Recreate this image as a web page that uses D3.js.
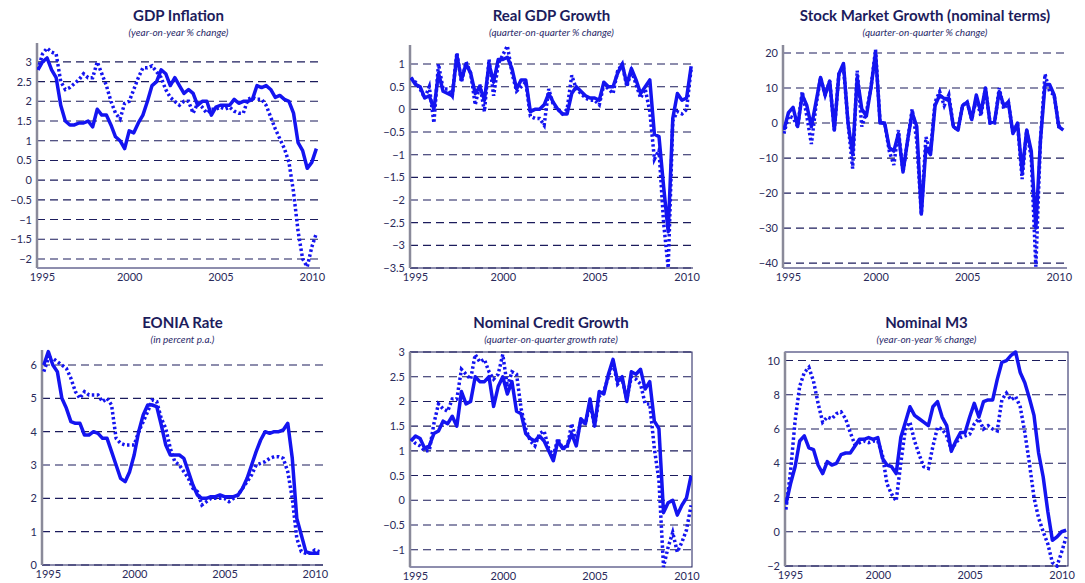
<!DOCTYPE html>
<html><head><meta charset="utf-8">
<script src="https://cdn.jsdelivr.net/npm/d3@7"></script>
<style>
body { margin:0; background:#fff; }
text { font-family: Lato, "Open Sans", sans-serif; }
</style></head>
<body><svg id="chart" width="1085" height="583"></svg>
<script>
// quarterly data, 1995Q1 .. 2010Q2
var gdpInflSolid = [2.8,3.0,3.1,2.8, 2.6,1.9,1.5,1.4, 1.4,1.45,1.45,1.5, 1.35,1.8,1.65,1.65, 1.4,1.1,1.0,0.8, 1.25,1.2,1.45,1.65, 2.0,2.4,2.5,2.8, 2.7,2.4,2.6,2.4, 2.2,2.3,2.2,1.9, 2.0,2.0,1.65,1.85, 1.9,1.9,1.9,2.05, 1.95,2.0,2.0,2.05, 2.4,2.35,2.4,2.3, 2.1,2.15,2.05,2.0, 1.7,0.95,0.75,0.3, 0.45,0.8];
var gdpInflDot = [2.8,3.2,3.35,3.25, 3.2,2.5,2.3,2.35, 2.45,2.55,2.7,2.6, 2.6,3.0,2.7,2.4, 2.0,1.7,1.55,1.95, 2.0,2.3,2.6,2.85, 2.85,2.9,2.75,2.6, 2.3,2.1,2.0,1.9, 2.0,2.0,1.7,1.95, 1.85,1.7,1.8,1.8, 1.85,1.8,1.85,1.75, 1.7,1.7,2.05,2.1, 2.05,2.05,1.9,1.6, 1.3,1.05,0.8,0.45, -0.3,-1.3,-2.0,-2.2, -1.7,-1.35];

var gdpSolid = [0.7,0.55,0.5,0.25, 0.3,0.0,0.8,0.4, 0.35,0.3,1.2,0.65, 1.0,0.8,0.35,0.5, 0.2,1.0,0.6,1.1, 1.1,1.15,0.9,0.45, 0.65,0.65,-0.05,0.0, 0.0,0.1,0.35,0.15, 0.0,-0.1,-0.1,0.35, 0.5,0.4,0.3,0.25, 0.25,0.2,0.6,0.5, 0.5,0.8,1.0,0.55, 0.9,0.65,0.35,0.5, 0.65,-0.55,-0.6,-1.7, -2.7,-0.2,0.35,0.2, 0.25,0.95];
var gdpDot = [0.7,0.6,0.45,0.25, 0.5,-0.3,1.0,0.45, 0.45,0.3,1.25,0.6, 1.05,0.8,0.1,0.55, -0.05,1.1,0.3,1.0, 1.2,1.4,0.8,0.4, 0.5,0.6,-0.15,-0.2, -0.2,-0.35,0.45,0.1, 0.0,-0.1,0.0,0.75, 0.45,0.35,0.25,0.2, 0.2,0.1,0.55,0.45, 0.35,0.85,1.0,0.5, 0.85,0.55,0.25,0.45, -0.05,-1.1,-0.9,-2.5, -3.5,-0.25,-0.05,-0.1, 0.0,0.9];

var stockSolid = [-2,3,4.5,-1, 8,5,-1,6, 13,8,12,-2, 14,17,0,-9, 13,4,2,10, 20,0,0,-7, -8,-3,-14,-5, 3,-1,-26,-7, -9,5,8,7, 7,-1,-2,5, 6,1,8,3, 10,0,0.5,9, 5,6,-3,0, -14,-2,-8,-30, -5,11,11,8, -1,-2];
var stockDot = [-3,2,1.5,-1, 9,2,-6,5, 13,8,12,-2, 14,16,0,-13, 15,-1,3,10, 21,0,0,-8, -12,-2,-14,-5, 4,-5,-26,-4, -8,6,9,5, 8,-1,-2,5, 6,1,7,2, 10,0,0,10, 4,6,-3,0, -16,-2,-10,-41, -5,14,9,8, -1,-1];

var eoniaSolid = [6.0,6.4,6.0,5.8, 5.0,4.7,4.3,4.25, 4.25,3.9,3.9,4.0, 3.95,3.8,3.8,3.4, 3.0,2.6,2.5,2.8, 3.3,4.0,4.5,4.8, 4.8,4.75,4.2,3.6, 3.3,3.3,3.3,3.2, 2.8,2.4,2.1,2.0, 2.0,2.05,2.05,2.1, 2.05,2.05,2.05,2.1, 2.3,2.6,3.0,3.4, 3.75,4.0,3.95,4.0, 4.0,4.05,4.25,3.2, 1.4,0.9,0.4,0.35, 0.35,0.35];
var eoniaDot = [5.8,6.2,6.2,6.1, 6.0,5.9,5.6,5.2, 5.0,5.2,5.1,5.1, 5.1,4.9,5.0,4.8, 3.8,3.65,3.6,3.6, 3.6,4.0,4.3,4.6, 4.95,4.9,4.4,4.1, 3.5,3.1,3.0,2.8, 2.6,2.3,2.2,1.8, 1.9,2.0,2.0,2.0, 2.0,1.9,2.0,2.1, 2.3,2.5,2.7,3.0, 3.05,3.1,3.2,3.25, 3.25,3.2,2.8,2.0, 0.8,0.4,0.35,0.35, 0.45,0.4];

var creditSolid = [1.2,1.3,1.25,1.05, 1.1,1.35,1.4,1.6, 1.55,1.7,1.5,2.2, 1.95,2.0,2.5,2.4, 2.4,2.5,1.9,2.3, 2.5,2.15,2.4,1.8, 1.75,1.35,1.25,1.2, 1.3,1.2,1.0,0.8, 1.2,1.05,1.1,1.35, 1.1,1.65,1.55,2.05, 1.5,2.2,2.15,2.55, 2.85,2.4,2.5,2.0, 2.6,2.55,2.65,2.25, 2.4,1.6,1.45,-0.25, -0.05,0.0,-0.3,-0.1, 0.05,0.5];
var creditDot = [1.25,1.15,1.1,1.0, 1.0,1.55,1.95,1.85, 1.8,2.05,2.05,2.65, 2.55,2.45,2.95,2.8, 2.85,2.6,2.45,2.55, 2.95,2.3,2.6,2.55, 1.85,1.45,1.2,1.1, 1.35,1.4,1.05,0.9, 1.25,1.05,1.05,1.55, 1.2,1.6,1.55,1.95, 1.5,2.1,2.2,2.5, 2.8,2.35,2.45,2.05, 2.5,2.45,2.35,1.95, 1.95,1.05,0.4,-1.35, -0.95,-0.65,-1.05,-0.85, -0.6,-0.1];

var m3Solid = [1.6,2.8,3.8,5.3, 5.6,4.9,4.8,3.9, 3.4,4.1,3.9,4.0, 4.5,4.6,4.6,5.0, 5.4,5.4,5.5,5.4, 5.5,4.3,3.9,3.8, 3.4,5.5,6.4,7.3, 6.8,6.6,6.4,6.2, 7.3,7.6,6.7,6.2, 4.7,5.3,5.8,5.8, 6.7,7.5,6.7,7.6, 7.7,7.7,8.9,9.9, 10.0,10.3,10.5,9.3, 8.7,7.8,6.8,4.6, 3.2,1.2,-0.5,-0.3, 0.0,0.1];
var m3Dot = [1.3,3.5,6.5,8.5, 9.3,9.6,8.8,7.5, 6.4,6.7,6.6,6.9, 7.0,6.6,5.8,5.1, 5.2,5.3,5.2,5.3, 5.3,4.5,2.8,2.2, 1.8,4.0,6.0,6.4, 5.3,4.5,3.8,3.7, 5.0,6.1,6.0,5.6, 4.8,5.2,5.5,5.6, 5.7,6.3,6.6,6.0, 6.2,6.0,5.9,7.7, 8.1,7.7,7.9,7.3, 5.8,4.0,2.0,0.8, 0.0,-0.7,-1.8,-2.0, -1.2,-0.3];

var yearTicks = [1995, 2000, 2005, 2010];

var panels = [
  {title:"GDP Inflation", sub:"(year-on-year % change)", solid:gdpInflSolid, dot:gdpInflDot,
   box:[37,43,320,268], y:[-2.23,3.48], x:[1994.95,2010.45], ticks:[-2,-1.5,-1,-0.5,0,0.5,1,1.5,2,2.5,3], ty:21, frame:false},
  {title:"Real GDP Growth", sub:"(quarter-on-quarter % change)", solid:gdpSolid, dot:gdpDot,
   box:[410,45,693,268], y:[-3.5,1.42], x:[1994.95,2010.35], ticks:[-3.5,-3,-2.5,-2,-1.5,-1,-0.5,0,0.5,1], ty:21, frame:false},
  {title:"Stock Market Growth (nominal terms)", sub:"(quarter-on-quarter % change)", solid:stockSolid, dot:stockDot,
   box:[783,45,1067,268], y:[-41.4,22.3], x:[1994.95,2010.45], ticks:[-40,-30,-20,-10,0,10,20], ty:21, frame:false},
  {title:"EONIA Rate", sub:"(in percent p.a.)", solid:eoniaSolid, dot:eoniaDot,
   box:[42,350,323,565], y:[0,6.45], x:[1994.9,2010.45], ticks:[0,1,2,3,4,5,6], ty:328, frame:false},
  {title:"Nominal Credit Growth", sub:"(quarter-on-quarter growth rate)", solid:creditSolid, dot:creditDot,
   box:[410,352,692,567], y:[-1.35,3.0], x:[1994.95,2010.3], ticks:[-1,-0.5,0,0.5,1,1.5,2,2.5,3], ty:328, frame:true},
  {title:"Nominal M3", sub:"(year-on-year % change)", solid:m3Solid, dot:m3Dot,
   box:[785,352,1068,566], y:[-2,10.5], x:[1994.95,2010.35], ticks:[-2,0,2,4,6,8,10], ty:328, frame:true}
];

var svg = d3.select("#chart");
var navy = "#1c1c5c", blue = "#1414f0";

panels.forEach(function(p) {
  var b = p.box;
  var x = d3.scaleLinear().domain(p.x).range([b[0], b[2]]);
  var y = d3.scaleLinear().domain(p.y).range([b[3], b[1]]);
  var g = svg.append("g");
  var cx = (b[0] + b[2]) / 2;

  g.append("text").attr("x", cx).attr("y", p.ty).attr("text-anchor", "middle")
   .attr("font-size", 15).attr("font-weight", "bold").attr("fill", navy).text(p.title);
  g.append("text").attr("x", cx).attr("y", p.ty + 15).attr("text-anchor", "middle")
   .attr("font-size", 10).attr("font-style", "italic").attr("fill", "#2a2a6a").text(p.sub);

  // grid
  g.selectAll(".grid").data(p.ticks).enter().append("line")
   .attr("x1", b[0]).attr("x2", b[2])
   .attr("y1", function(d) { return y(d); }).attr("y2", function(d) { return y(d); })
   .attr("stroke", navy).attr("stroke-width", 1.1).attr("stroke-dasharray", "8,5");

  if (p.frame) {
    g.append("rect").attr("x", b[0]).attr("y", b[1]).attr("width", b[2]-b[0]).attr("height", b[3]-b[1])
     .attr("fill", "none").attr("stroke", navy).attr("stroke-width", 1);
  } else {
    g.append("line").attr("x1", b[0]).attr("x2", b[2]).attr("y1", b[3]).attr("y2", b[3])
     .attr("stroke", navy).attr("stroke-width", 1);
  }
  // thick left axis
  g.append("line").attr("x1", b[0]).attr("x2", b[0]).attr("y1", b[1]).attr("y2", b[3])
   .attr("stroke", "#8a8a9a").attr("stroke-width", 2.5);

  var yAxis = d3.axisLeft(y).tickValues(p.ticks).tickSize(0).tickPadding(5).tickFormat(d3.format("~g"));
  var ya = g.append("g").attr("transform", "translate(" + b[0] + ",0)").call(yAxis);
  ya.select(".domain").remove();
  ya.selectAll("text").attr("font-size", 11).attr("fill", "#2a2a5a").style("font-family", "Lato, sans-serif");

  var xAxis = d3.axisBottom(x).tickValues(yearTicks).tickSize(0).tickPadding(5).tickFormat(d3.format("d"));
  var xa = g.append("g").attr("transform", "translate(0," + b[3] + ")").call(xAxis);
  xa.select(".domain").remove();
  xa.selectAll("text").attr("font-size", 11).attr("fill", "#2a2a5a").style("font-family", "Lato, sans-serif")
    .attr("dx", function(d) { return d === 1995 ? 4 : 0; });

  var line = d3.line().x(function(d, i) { return x(1995 + i / 4); }).y(function(d) { return y(d); });
  var clipId = "clip" + b[0] + "_" + b[1];
  svg.append("clipPath").attr("id", clipId).append("rect")
     .attr("x", b[0]).attr("y", b[1] - 2).attr("width", b[2]-b[0]).attr("height", b[3]-b[1] + 4);
  g.append("path").datum(p.dot).attr("d", line).attr("clip-path", "url(#" + clipId + ")")
   .attr("fill", "none").attr("stroke", blue).attr("stroke-width", 3.5).attr("stroke-dasharray", "2.5,2.5");
  g.append("path").datum(p.solid).attr("d", line).attr("clip-path", "url(#" + clipId + ")")
   .attr("fill", "none").attr("stroke", blue).attr("stroke-width", 3.5).attr("stroke-linejoin", "round");
});
</script></body></html>
